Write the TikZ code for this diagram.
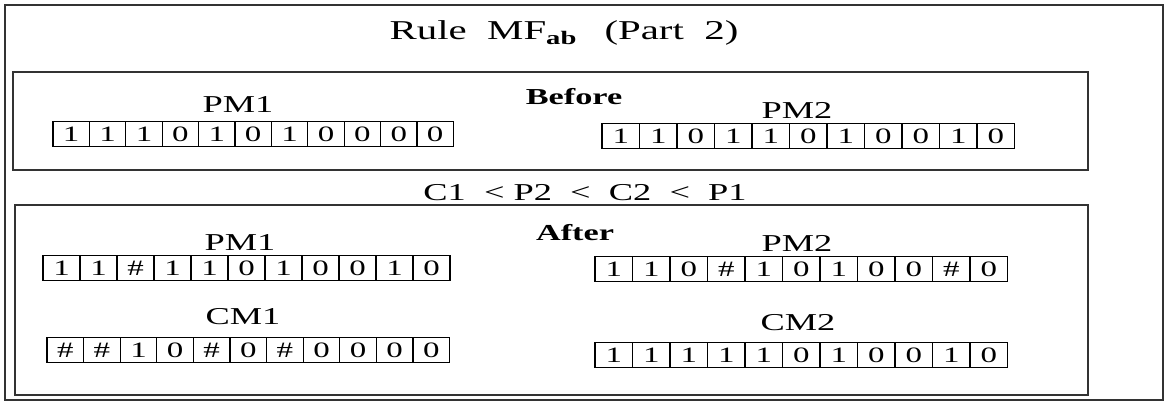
\documentclass[tikz,border=0pt]{standalone}
\usepackage{fontspec}
\setmainfont[FakeStretch=1.5]{Liberation Serif}
\usepackage{tikz}
\usetikzlibrary{positioning}
\tikzset{
  cell/.style={draw,line width=0.7pt,inner sep=0pt,minimum height=25*0.02cm,font=\fontsize{12.5}{14}\selectfont},
  frame/.style={draw,line width=0.8pt,black!80},
  tag/.style={font=\fontsize{13}{15}\selectfont\bfseries}
}
% one memory row: name, left x, centre y, cell width, bits
\newcommand{\memory}[5]{\foreach \b [count=\i] in {#5}{\node[cell,minimum width={#4*0.02cm}] (#1-\i) at ({#2+(\i-0.5)*#4},#3) {\b};}}

\begin{document}
\begin{tikzpicture}[x=0.02cm,y=-0.02cm,font=\fontsize{13.8}{16}\selectfont]
\useasboundingbox (0,0) rectangle (1167,407);
\draw[frame] (5,5) rectangle (1163,400);
\draw[frame] (13,72) rectangle (1088,170);
\draw[frame] (15,205) rectangle (1088,395);
\node[font=\fontsize{15.5}{18}\selectfont] (title) at (564,33) {Rule\ \ MF\textsubscript{\textbf{ab}}\quad (Part\ \ 2)};
\node (order) at (585,193) {C1\ \ <\ P2\ \ <\ \ C2\ \ <\ \ P1};
\node[tag] (before) at (574,97) {Before};
\node[tag] (after) at (575,233) {After};
% before
\node (pmonelbl) at (238,104) {PM1};
\memory{pmone}{53}{134}{36.4}{1,1,1,0,1,0,1,0,0,0,0}
\node (pmtwolbl) at (797,110) {PM2};
\memory{pmtwo}{602}{136}{37.5}{1,1,0,1,1,0,1,0,0,1,0}
% after
\node (pmoneAlbl) at (240,242) {PM1};
\memory{pmoneA}{43}{268}{37}{1,1,\#,1,1,0,1,0,0,1,0}
\node (cmonelbl) at (243,317) {CM1};
\memory{cmone}{47}{350}{36.6}{\#,\#,1,0,\#,0,\#,0,0,0,0}
\node (pmtwoAlbl) at (797,243) {PM2};
\memory{pmtwoA}{595}{269}{37.5}{1,1,0,\#,1,0,1,0,0,\#,0}
\node (cmtwolbl) at (798,323) {CM2};
\memory{cmtwo}{595}{355}{37.5}{1,1,1,1,1,0,1,0,0,1,0}
\end{tikzpicture}
\end{document}
